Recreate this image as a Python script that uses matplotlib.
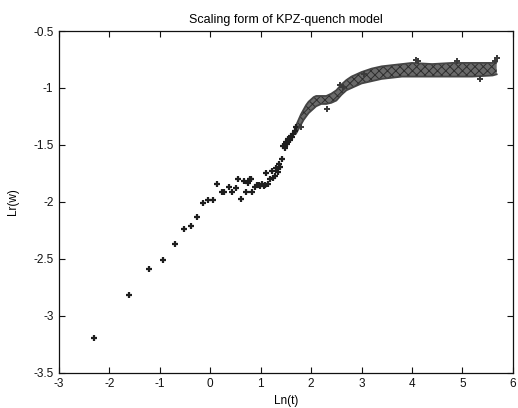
import matplotlib
matplotlib.use("Agg")
import matplotlib.pyplot as plt

plt.rcParams['font.family'] = ['Liberation Sans', 'DejaVu Sans']
plt.rcParams['hatch.linewidth'] = 0.7

title = "Scaling form of KPZ-quench model"
xlabel = "Ln(t)"
ylabel = "Lr(w)"
xticks = [-3, -2, -1, 0, 1, 2, 3, 4, 5, 6]
xticklabels = ["-3", "-2", "-1", "0", "1", "2", "3", "4", "5", "6"]
yticks = [-3.5, -3, -2.5, -2, -1.5, -1, -0.5]
yticklabels = ["-3.5", "-3", "-2.5", "-2", "-1.5", "-1", "-0.5"]

# sparse points (individual markers)
sparse_x = [-2.31, -1.62, -1.22, -0.94, -0.71, -0.53, -0.38, -0.26, -0.14, -0.04, 0.05,
            0.13, 0.23, 0.27, 0.37, 0.43, 0.50, 0.55, 0.60, 0.66, 0.71, 0.74, 0.79,
            0.82, 0.81, 0.89, 0.92, 0.96, 0.99, 1.03, 1.06, 1.09, 1.11, 1.15, 1.19,
            1.22, 1.25, 1.28, 1.31, 1.34, 1.36, 1.39, 1.43, 1.45, 1.48, 1.50, 1.52,
            1.55, 1.58, 1.60, 1.63, 1.65, 1.68, 1.70]
sparse_y = [-3.19, -2.82, -2.59, -2.51, -2.37, -2.24, -2.21, -2.13, -2.01, -1.98, -1.98,
            -1.84, -1.91, -1.91, -1.87, -1.91, -1.88, -1.80, -1.97, -1.82, -1.91, -1.83, -1.80,
            -1.91, -1.80, -1.87, -1.85, -1.85, -1.86, -1.84, -1.86, -1.85, -1.75, -1.84, -1.80,
            -1.73, -1.79, -1.77, -1.70, -1.74, -1.67, -1.69, -1.62, -1.51, -1.53, -1.47, -1.49,
            -1.45, -1.46, -1.42, -1.43, -1.40, -1.38, -1.34]

# dense band (upper / lower envelope of the overlapping markers)
band_x = [1.70, 1.75, 1.80, 1.85, 1.90, 1.95, 2.00, 2.05, 2.10, 2.20, 2.30, 2.40, 2.50,
          2.60, 2.70, 2.80, 2.90, 3.00, 3.20, 3.40, 3.60, 3.80, 4.00, 4.40, 4.80, 5.20, 5.60, 5.68]
band_hi = [-1.33, -1.28, -1.23, -1.19, -1.15, -1.12, -1.10, -1.08, -1.07, -1.07, -1.07, -1.05, -1.02,
           -0.97, -0.93, -0.90, -0.88, -0.86, -0.83, -0.81, -0.80, -0.79, -0.78, -0.79, -0.78, -0.78, -0.78, -0.77]
band_lo = [-1.40, -1.36, -1.32, -1.28, -1.25, -1.22, -1.20, -1.18, -1.16, -1.14, -1.14, -1.13, -1.11,
           -1.06, -1.02, -1.00, -0.98, -0.96, -0.94, -0.92, -0.91, -0.90, -0.90, -0.90, -0.90, -0.90, -0.89, -0.88]

# isolated markers sticking out of the band
edge_x = [1.80, 2.31, 2.58, 2.64, 3.05, 4.08, 4.12, 4.90, 5.35, 5.68, 5.64]
edge_y = [-1.34, -1.18, -0.97, -0.99, -0.88, -0.75, -0.76, -0.76, -0.92, -0.74, -0.76]

fig = plt.figure(figsize=(5.18, 4.08), dpi=100)
ax = fig.add_axes([0.114, 0.086, 0.876, 0.838])

ax.fill_between(band_x, band_lo, band_hi, facecolor='#6a6a6a', edgecolor='#2e2e2e',
                hatch='xxxx', lw=0, zorder=2)
ax.plot(band_x, band_hi, color='#454545', lw=1.3, zorder=2)
ax.plot(band_x, band_lo, color='#454545', lw=1.3, zorder=2)
ax.plot(sparse_x, sparse_y, linestyle='none', marker='+', markersize=5, mew=1.6,
        color='#1e1e1e', zorder=3)
ax.plot(edge_x, edge_y, linestyle='none', marker='+', markersize=4.5, mew=1.4,
        color='#3a3a3a', zorder=3)

ax.set_xlim(-3, 6)
ax.set_ylim(-3.5, -0.5)
ax.set_xticks(xticks)
ax.set_xticklabels(xticklabels)
ax.set_yticks(yticks)
ax.set_yticklabels(yticklabels)
ax.tick_params(direction='in', length=4, width=0.8, labelsize=8.5, top=True, right=True,
               pad=4, colors='#111111')
for s in ax.spines.values():
    s.set_linewidth(0.9)
    s.set_color('#111111')

ax.set_title(title, fontsize=9, pad=6)
ax.set_xlabel(xlabel, fontsize=8.5, labelpad=3)
ax.set_ylabel(ylabel, fontsize=8.5, labelpad=10)

fig.savefig("out.png", dpi=100)
